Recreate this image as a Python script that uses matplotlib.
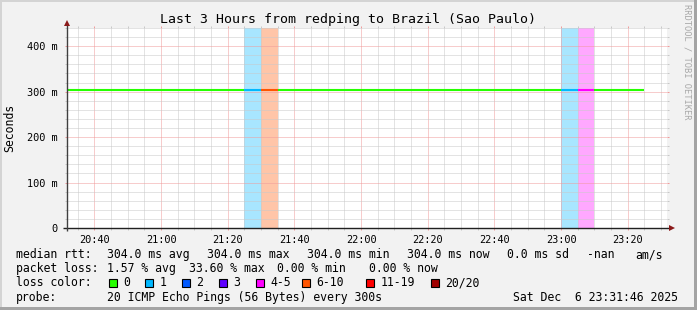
"""
Smokeping-style latency graph: last 3 hours, redping -> Brazil (Sao Paulo).
Median RTT line coloured by packet loss, loss bins shaded full height.
"""

import datetime as dt

import matplotlib
matplotlib.use("Agg")
import matplotlib.pyplot as plt
import matplotlib.dates as mdates
from matplotlib.patches import Rectangle
from matplotlib.ticker import MultipleLocator, FuncFormatter

W, H = 697, 310
MONO = "DejaVu Sans Mono"
LEG_FS = 8.3

TITLE = "Last 3 Hours from redping to Brazil (Sao Paulo)"
START = dt.datetime(2025, 12, 6, 20, 31, 46)
END   = dt.datetime(2025, 12, 6, 23, 31, 46)
FIRST_BIN = dt.datetime(2025, 12, 6, 20, 30)
STEP_MIN = 5

# median rtt per 5 minute bin (ms), 20:30 .. 23:20
rtt_ms = [
    304.0, 304.0, 304.0, 304.0, 304.0, 304.0, 304.0, 304.0, 304.0, 304.0,   # 20:30-21:15
    304.0, 304.0, 304.0, 304.0, 304.0, 304.0, 304.0, 304.0, 304.0, 304.0,   # 21:20-22:05
    304.0, 304.0, 304.0, 304.0, 304.0, 304.0, 304.0, 304.0, 304.0, 304.0,   # 22:10-22:55
    304.0, 304.0, 304.0, 304.0, 304.0,                                      # 23:00-23:20
]
# lost pings out of 20 per bin
loss_pings = [
    0, 0, 0, 0, 0, 0, 0, 0, 0, 0,
    0, 1, 6.72, 0, 0, 0, 0, 0, 0, 0,
    0, 0, 0, 0, 0, 0, 0, 0, 0, 0,
    1, 4, 0, 0, 0,
]

loss_upper  = [0, 1, 2, 3, 5, 10, 19, 20]
loss_labels = ["0", "1", "2", "3", "4-5", "6-10", "11-19", "20/20"]
loss_colors = ["#26ff00", "#00b8ff", "#0059ff", "#5e00ff",
               "#ff00ff", "#ff5500", "#ff0000", "#a10000"]

legend_rtt = [("median rtt:", 16), ("304.0 ms avg", 107.3), ("304.0 ms max", 207.3),
              ("304.0 ms min", 306.7), ("304.0 ms now", 406.7), ("0.0 ms sd", 506.7),
              ("-nan", 586.7), ("am/s", 635)]
legend_loss = [("packet loss:", 16), ("1.57 % avg", 107.3), ("33.60 % max", 189),
               ("0.00 % min", 277), ("0.00 % now", 369)]
legend_box_x = [108.5, 145.3, 182, 218.7, 255.5, 302, 366, 431]
legend_probe = [("probe:", 16), ("20 ICMP Echo Pings (56 Bytes) every 300s", 107.3),
                ("Sat Dec  6 23:31:46 2025", 513)]

GRID_MAJOR = "#f19a9a"
GRID_MINOR = "#c8c8c8"


def loss_color(n):
    for up, c in zip(loss_upper, loss_colors):
        if n <= up:
            return c
    return loss_colors[-1]


def fx(x):
    return x / W


def fy(y):
    return 1 - y / H


fig = plt.figure(figsize=(W / 100, H / 100), dpi=100, facecolor="#f2f2f2")

# 3d-ish frame like rrdtool
for (x, y, w, h, c) in [(0, 0, W, 2, "#d4d4d4"), (0, 0, 2, H, "#d4d4d4"),
                        (0, H - 3, W, 3, "#a4a4a4"), (W - 3, 0, 3, H, "#a4a4a4")]:
    fig.add_artist(Rectangle((fx(x), fy(y + h)), w / W, h / H, color=c,
                             transform=fig.transFigure, lw=0))

ax = fig.add_axes([fx(67), fy(228), 600 / W, 200 / H])
ax.set_facecolor("white")
ax.set_xlim(START, END)
ax.set_ylim(0, 0.44)
for s in ax.spines.values():
    s.set_visible(False)

times = [FIRST_BIN + dt.timedelta(minutes=STEP_MIN * i) for i in range(len(rtt_ms))]
step = dt.timedelta(minutes=STEP_MIN)

# loss background bars
for t, n in zip(times, loss_pings):
    if n > 0:
        ax.axvspan(t, t + step, color=loss_color(n), alpha=0.34, lw=0, zorder=1)

# median rtt, one segment per bin
ax.hlines([v / 1000 for v in rtt_ms], times, [t + step for t in times],
          colors=[loss_color(n) for n in loss_pings], lw=1.5, zorder=3)

# grid (rrdtool lets grid lines poke 2px past the canvas -> ticks in grid colour)
ax.xaxis.set_major_locator(mdates.MinuteLocator(byminute=[0, 20, 40]))
ax.xaxis.set_minor_locator(mdates.MinuteLocator(byminute=range(0, 60, 5)))
ax.xaxis.set_major_formatter(mdates.DateFormatter("%H:%M"))
ax.yaxis.set_major_locator(MultipleLocator(0.1))
ax.yaxis.set_minor_locator(MultipleLocator(0.02))
ax.yaxis.set_major_formatter(FuncFormatter(lambda v, _: "0" if abs(v) < 1e-9 else f"{v * 1000:.0f} m"))
ax.grid(which="major", color=GRID_MAJOR, linestyle=(0, (1, 1)), lw=0.72, zorder=2)
ax.grid(which="minor", color=GRID_MINOR, linestyle=(0, (1, 1)), lw=0.72, zorder=2)
ax.set_axisbelow(False)
ax.tick_params(which="both", direction="out", width=0.72, length=1.6,
               top=True, right=True, labelsize=7.4, labelfontfamily=MONO)
ax.tick_params(which="major", color=GRID_MAJOR)
ax.tick_params(which="minor", color=GRID_MINOR)
ax.tick_params(axis="x", pad=3.2)
ax.tick_params(axis="y", pad=5.2)

# axes with arrows
ax.plot([-0.006, 1.006], [0, 0], transform=ax.transAxes, color="#202020",
        lw=1, clip_on=False, zorder=5, solid_capstyle="butt")
ax.plot([0, 0], [-0.015, 1.02], transform=ax.transAxes, color="#404040",
        lw=1, clip_on=False, zorder=5, solid_capstyle="butt")
ax.plot([1.0075], [0], marker=">", ms=5, color="#8b1a1a", transform=ax.transAxes,
        clip_on=False, zorder=6, mew=0)
ax.plot([0], [1.025], marker="^", ms=5, color="#8b1a1a", transform=ax.transAxes,
        clip_on=False, zorder=6, mew=0)

fig.text(fx(347.5), fy(23.5), TITLE, ha="center", va="baseline",
         fontsize=9.5, family=MONO)
fig.text(fx(10), fy(128), "Seconds", rotation=90, ha="center", va="center",
         fontsize=LEG_FS, family=MONO)
fig.text(fx(687), fy(4), "RRDTOOL / TOBI OETIKER", rotation=270, ha="center",
         va="top", fontsize=6.3, family=MONO, color="#a8a8a8")

# legend block
for parts, base in [(legend_rtt, 258), (legend_loss, 272.2), (legend_probe, 300.6)]:
    for txt, x in parts:
        fig.text(fx(x), fy(base), txt, ha="left", va="baseline",
                 fontsize=LEG_FS, family=MONO)

fig.text(fx(16), fy(286.4), "loss color:", ha="left", va="baseline",
         fontsize=LEG_FS, family=MONO)
for x, lab, c in zip(legend_box_x, loss_labels, loss_colors):
    fig.add_artist(Rectangle((fx(x), fy(286.5)), 8 / W, 8 / H, facecolor=c,
                             edgecolor="black", lw=0.8, transform=fig.transFigure))
    fig.text(fx(x + 14.5), fy(286.4), lab, ha="left", va="baseline",
             fontsize=LEG_FS, family=MONO)

fig.savefig("out.png", dpi=100, facecolor=fig.get_facecolor())
